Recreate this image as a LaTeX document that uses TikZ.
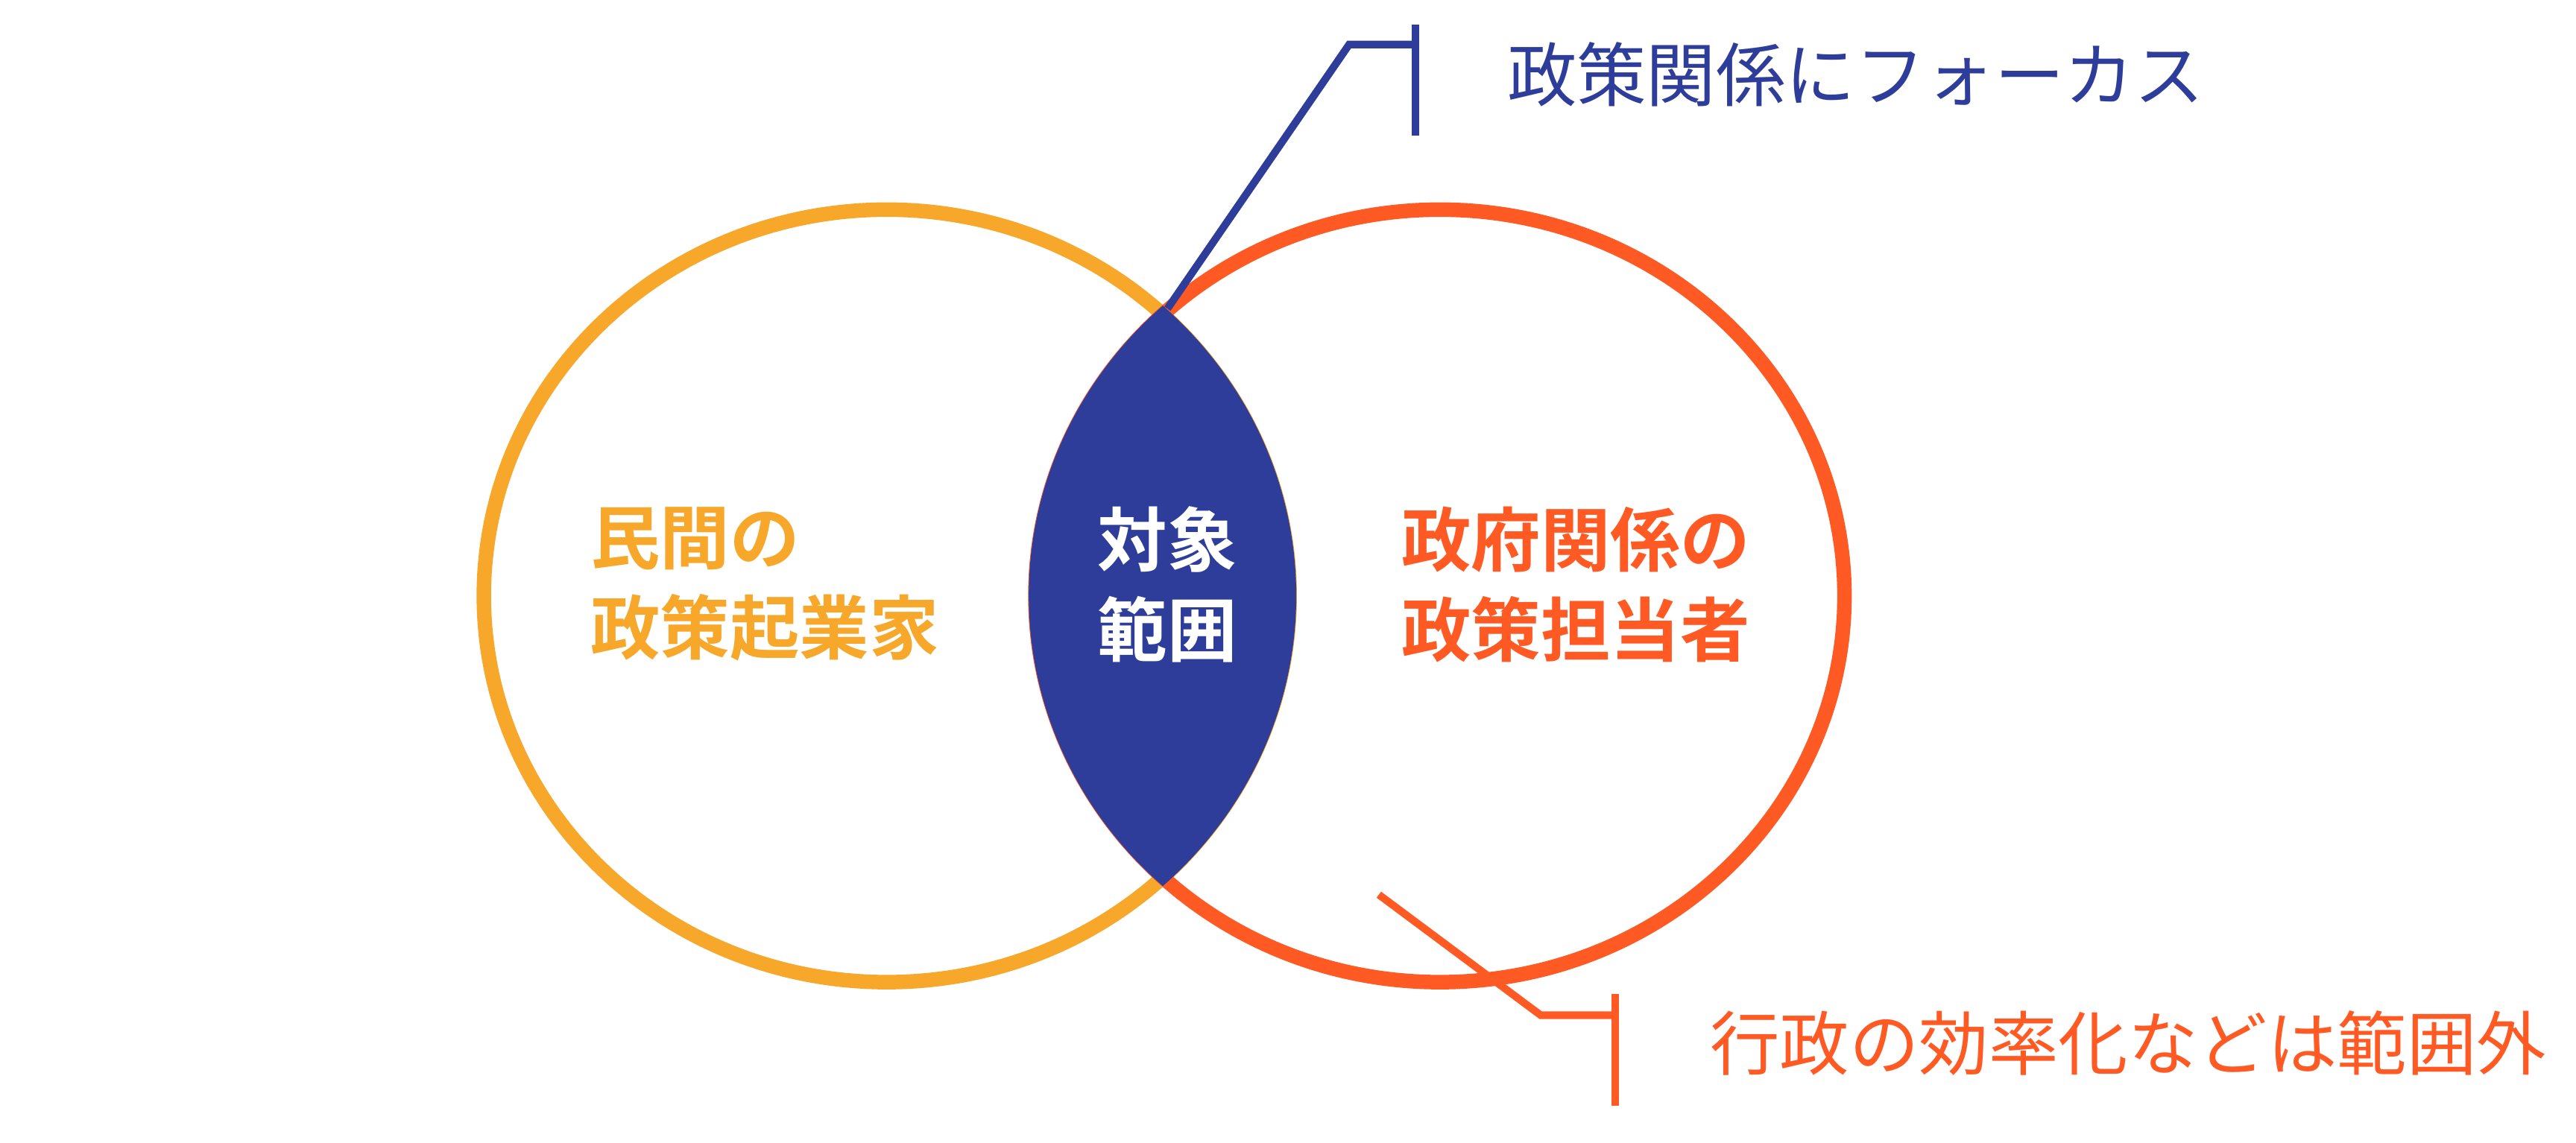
\documentclass[tikz,border=0pt]{standalone}
\usepackage{fontspec}
\newfontfamily\cjk{Noto Sans CJK JP}
\newfontfamily\cjkbold{Noto Sans CJK JP Bold}
\usetikzlibrary{positioning}
\definecolor{civic}{HTML}{F7A72A}
\definecolor{gov}{HTML}{FF5A24}
\definecolor{focus}{HTML}{2E3D9A}
\tikzset{
  ring/.style={line width=2.5pt},
  circlabel/.style={font=\cjkbold\fontsize{12}{15.5}\selectfont, align=left, inner sep=0pt},
  calltext/.style={font=\cjk\fontsize{12}{14}\selectfont, anchor=west, inner sep=0pt},
  callline/.style={line width=1.3pt}
}
\begin{document}
\begin{tikzpicture}[x=0.01cm, y=-0.01cm]
    \useasboundingbox (0,0) rectangle (1560,692);

    \coordinate (L) at (537,361);
    \coordinate (R) at (872,361);

    \draw[ring, civic] (L) ellipse [x radius=244, y radius=234];
    \draw[ring, gov] (R) ellipse [x radius=245, y radius=234];

    % lens
    \begin{scope}
      \clip (L) ellipse [x radius=248, y radius=238];
      \fill[focus] (R) ellipse [x radius=249, y radius=238];
    \end{scope}

    \node[circlabel, civic, anchor=west] (civ) at (357,354) {民間の\\政策起業家};
    \node[circlabel, white, align=center] (tgt) at (707,354) {対象\\範囲};
    \node[circlabel, gov, anchor=west] (govt) at (848,354) {政府関係の\\政策担当者};

    % top callout
    \coordinate (T0) at (707,187);
    \coordinate (T1) at (817,27);
    \coordinate (T2) at (857,27);
    \draw[callline, focus] (T0) -- (T1) -- (T2);
    \draw[callline, focus] (857,15) -- (857,82);
    \node[calltext, focus] (ftxt) at (912,45) {政策関係にフォーカス};

    % bottom callout
    \coordinate (B0) at (835,542);
    \coordinate (B1) at (933,615);
    \coordinate (B2) at (978,615);
    \draw[callline, gov] (B0) -- (B1) -- (B2);
    \draw[callline, gov] (978,602) -- (978,670);
    \node[calltext, gov] (otxt) at (1035,632) {行政の効率化などは範囲外};
\end{tikzpicture}
\end{document}
